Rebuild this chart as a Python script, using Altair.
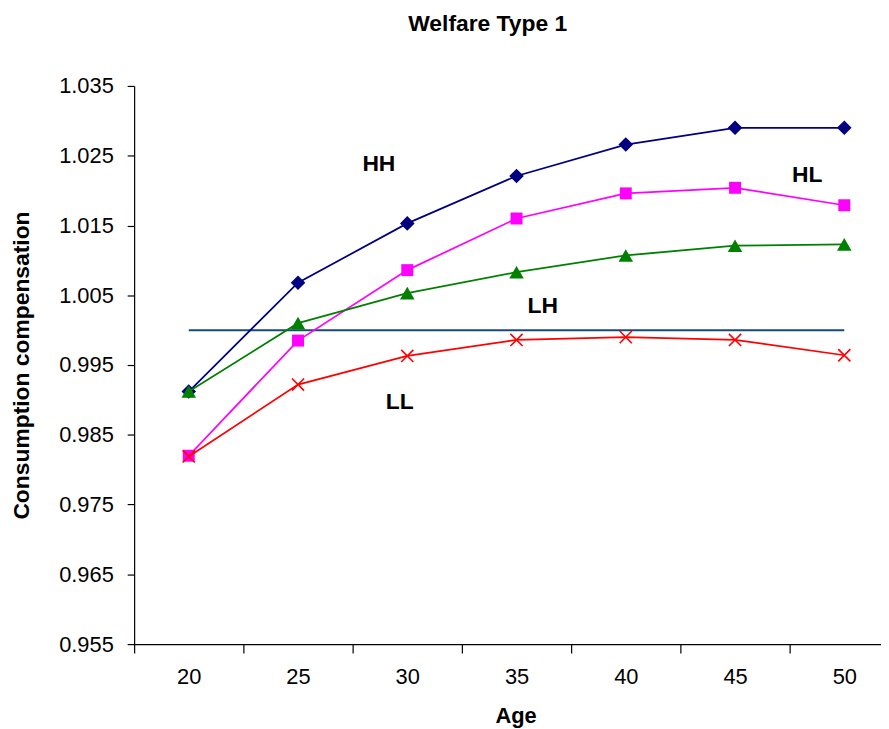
import altair as alt
import pandas as pd

ages = [20, 25, 30, 35, 40, 45, 50]
hh = [0.9912, 1.0068, 1.0153, 1.0221, 1.0266, 1.0290, 1.0290]
hl = [0.9820, 0.9985, 1.0086, 1.0160, 1.0196, 1.0204, 1.0179]
lh = [0.9912, 1.0010, 1.0053, 1.0083, 1.0107, 1.0121, 1.0123]
ll = [0.9819, 0.9922, 0.9963, 0.9986, 0.9990, 0.9986, 0.9964]
ref_value = 1.0

series_names = ["HH", "HL", "LH", "LL"]
series_values = [hh, hl, lh, ll]
series_colors = ["#000080", "#FF00FF", "#008000", "#FF0000"]
series_shapes = ["diamond", "square", "triangle-up", "M-1,-1L1,1M-1,1L1,-1"]
series_sizes = [215, 145, 215, 150]

label_text = ["HH", "HL", "LH", "LL"]
label_x = [28.7, 48.3, 36.2, 29.65]
label_y = [1.0238, 1.0223, 1.0034, 0.9897]

x_ticks = [17.5, 22.5, 27.5, 32.5, 37.5, 42.5, 47.5]
y_ticks = [0.955, 0.965, 0.975, 0.985, 0.995, 1.005, 1.015, 1.025, 1.035]

FONT = "Liberation Sans"

x_scale = alt.Scale(domain=[17.5, 51.68], nice=False, zero=False)
y_scale = alt.Scale(domain=[0.955, 1.035], nice=False, zero=False)

x_axis = alt.Axis(
    values=x_ticks,
    labelExpr="format(datum.value + 2.5, 'd')",
    labelOffset=55,
    labelFlush=False,
    labelOverlap=False,
    grid=False,
    tickSize=9,
    labelPadding=14,
    title="Age",
    titleX=384,
    titleY=62,
    titleBaseline="top",
    titleAlign="center",
)
y_axis = alt.Axis(
    values=y_ticks,
    format=".3f",
    grid=False,
    tickSize=7,
    labelPadding=14,
    title="Consumption compensation",
    titleX=-113,
    titleY=281,
    titleAngle=-90,
    titleAlign="center",
    titleBaseline="middle",
    titleFontSize=23,
)

layers = []

ref_df = pd.DataFrame({"x": [ages[0]], "x2": [ages[-1]], "y": [ref_value]})
layers.append(
    alt.Chart(ref_df).mark_rule(color="#174A7C", strokeWidth=2).encode(
        x=alt.X("x:Q", scale=x_scale, axis=x_axis),
        x2="x2:Q",
        y=alt.Y("y:Q", scale=y_scale, axis=y_axis),
    )
)

for name, vals, col, shp, sz in zip(series_names, series_values, series_colors, series_shapes, series_sizes):
    df = pd.DataFrame({"age": ages, "value": vals})
    base = alt.Chart(df).encode(
        x=alt.X("age:Q", scale=x_scale, axis=x_axis),
        y=alt.Y("value:Q", scale=y_scale, axis=y_axis),
    )
    layers.append(base.mark_line(color=col, strokeWidth=1.75))
    if name == "LL":
        layers.append(base.mark_point(shape=shp, size=sz, color=col, filled=False, strokeWidth=1.6, opacity=1))
    else:
        layers.append(base.mark_point(shape=shp, size=sz, color=col, filled=True, opacity=1))

lab_df = pd.DataFrame({"t": label_text, "x": label_x, "y": label_y})
layers.append(
    alt.Chart(lab_df).mark_text(font=FONT, fontSize=23, fontWeight="bold", color="black",
                                align="center", baseline="middle").encode(
        x=alt.X("x:Q", scale=x_scale, axis=x_axis),
        y=alt.Y("y:Q", scale=y_scale, axis=y_axis),
        text="t:N",
    )
)

chart = alt.layer(*layers).properties(
    width=752,
    height=562,
    background="white",
    autosize=alt.AutoSizeParams(type="none"),
    padding={"left": 127, "top": 76, "right": 0, "bottom": 83},
    title=alt.TitleParams(
        text="Welfare Type 1",
        font=FONT,
        fontSize=23,
        fontWeight="bold",
        anchor="middle",
        frame="group",
        dx=-20,
        offset=21,
        baseline="alphabetic",
        color="black",
    ),
).configure_view(stroke=None).configure_axis(
    labelFont=FONT,
    labelFontSize=22,
    labelColor="black",
    titleFont=FONT,
    titleFontSize=22,
    titleFontWeight="bold",
    titleColor="black",
    domainColor="black",
    tickColor="black",
    domainWidth=1.2,
    tickWidth=1.2,
)

chart.save("out.html", embed_options={"renderer": "svg", "actions": False})
